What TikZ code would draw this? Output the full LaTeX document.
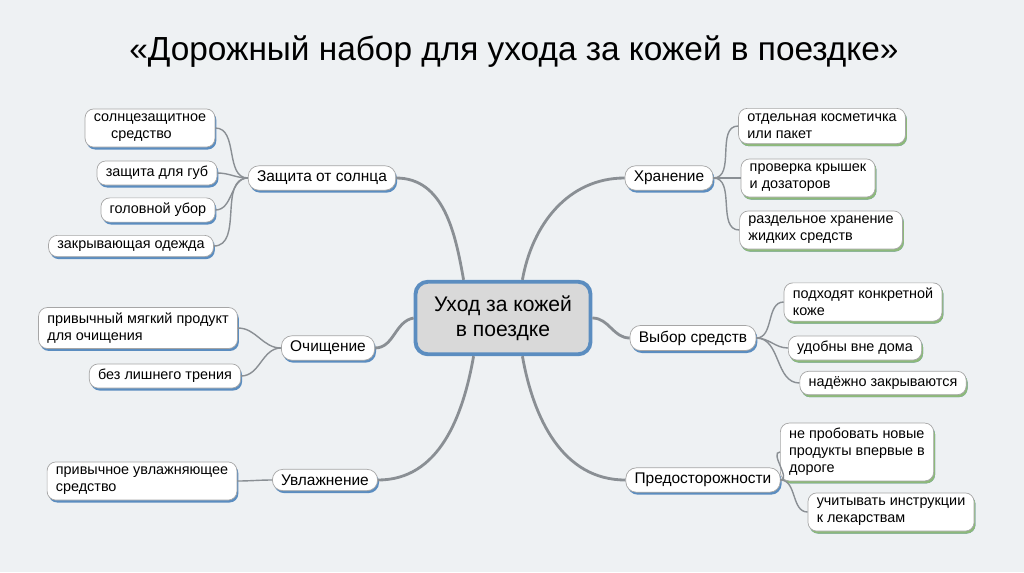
\documentclass[tikz,border=0pt]{standalone}
\usepackage{fontspec}
\setmainfont{Liberation Sans}
\usetikzlibrary{shadows}
\definecolor{bgC}{HTML}{EEF1F3}
\definecolor{blueC}{HTML}{5B8DC0}
\definecolor{greenC}{HTML}{8DB97A}
\definecolor{lineC}{HTML}{8A8F94}
\tikzset{
  root/.style={draw=blueC,line width=2.2pt,fill=gray!30,rounded corners=7pt,
    minimum width=3.5cm,minimum height=1.45cm,align=center,font=\fontsize{12}{14}\selectfont},
  branch/.style={draw=gray!70,fill=white,rounded corners=6pt,inner xsep=5pt,inner ysep=3pt,
    font=\fontsize{8.8}{10.5}\selectfont,
    drop shadow={shadow xshift=0.8pt,shadow yshift=-1.4pt,fill=blueC,opacity=1}},
  leafL/.style={draw=gray!70,fill=white,rounded corners=5pt,inner xsep=5pt,inner ysep=3pt,
    align=left,font=\fontsize{8.2}{9.6}\selectfont,
    drop shadow={shadow xshift=0.8pt,shadow yshift=-1.4pt,fill=blueC,opacity=1}},
  leafR/.style={leafL,drop shadow={shadow xshift=0.8pt,shadow yshift=-1.4pt,fill=greenC,opacity=1}},
  trunk/.style={draw=lineC,line width=1.6pt},
  twig/.style={draw=lineC,line width=0.8pt}
}
\begin{document}
\begin{tikzpicture}[x=0.02cm,y=-0.02cm]
\fill[bgC](0,0) rectangle (1024,572);
\node[font=\fontsize{19}{21}\selectfont] (title) at (514,52) {«Дорожный набор для ухода за кожей в поездке»};
% center
\node[root] (c) at (503,318) {Уход за кожей\\в поездке};
% branches
\node[branch] (sun) at (322,178) {Защита от солнца};
\node[branch] (cln) at (328,348) {Очищение};
\node[branch] (hum) at (325,480) {Увлажнение};
\node[branch] (sto) at (669,178) {Хранение};
\node[branch] (sel) at (693,338) {Выбор средств};
\node[branch] (pre) at (703,480) {Предосторожности};
% left leaves
\node[leafL] (l1) at (150,128) {солнцезащитное\\\hspace*{1.2em}средство};
\node[leafL] (l2) at (157,173) {защита для губ};
\node[leafL] (l3) at (158,210) {головной убор};
\node[leafL] (l4) at (131,246) {закрывающая одежда};
\node[leafL] (l5) at (138,328) {привычный мягкий продукт\\для очищения};
\node[leafL] (l6) at (165,376) {без лишнего трения};
\node[leafL] (l7) at (142,481) {привычное увлажняющее\\средство};
% right leaves
\node[leafR] (r1) at (822,126) {отдельная косметичка\\или пакет};
\node[leafR] (r2) at (808,178) {проверка крышек\\и дозаторов};
\node[leafR] (r3) at (821,230) {раздельное хранение\\жидких средств};
\node[leafR] (r4) at (863,302) {подходят конкретной\\коже};
\node[leafR] (r5) at (855,348) {удобны вне дома};
\node[leafR] (r6) at (883,383) {надёжно закрываются};
\node[leafR] (r7) at (857,452) {не пробовать новые\\продукты впервые в\\дороге};
\node[leafR] (r8) at (891,512) {учитывать инструкции\\к лекарствам};
% trunks
\draw[trunk] (c.north west)++(50,0) to[out=100,in=0] (sun.east);
\draw[trunk] (c.west) to[out=190,in=0] (cln.east);
\draw[trunk] (c.south west)++(60,0) to[out=260,in=0] (hum.east);
\draw[trunk] (c.north east)++(-70,0) to[out=80,in=180] (sto.west);
\draw[trunk] (c.east) to[out=0,in=180] (sel.west);
\draw[trunk] (c.south east)++(-70,0) to[out=280,in=180] (pre.west);
% twigs
\foreach \l in {l1,l2,l3,l4} \draw[twig] (sun.west) to[out=180,in=0] (\l.east);
\foreach \l in {l5,l6} \draw[twig] (cln.west) to[out=180,in=0] (\l.east);
\draw[twig] (hum.west) to[out=180,in=0] (l7.east);
\foreach \r in {r1,r2,r3} \draw[twig] (sto.east) to[out=0,in=180] (\r.west);
\foreach \r in {r4,r5,r6} \draw[twig] (sel.east) to[out=0,in=180] (\r.west);
\foreach \r in {r7,r8} \draw[twig] (pre.east) to[out=0,in=180] (\r.west);
\end{tikzpicture}
\end{document}
